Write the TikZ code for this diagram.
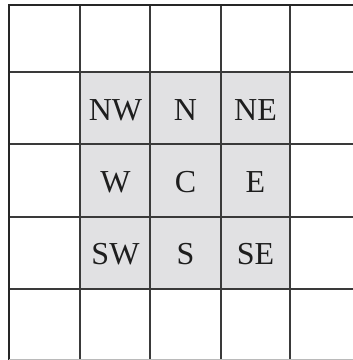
\documentclass[tikz,border=0pt]{standalone}
\usepackage{fontspec}
\setmainfont{Liberation Serif}
\definecolor{cellgray}{HTML}{E1E1E3}
\definecolor{linegray}{HTML}{3A3A3A}
\definecolor{textdark}{HTML}{1E1E1E}
\begin{document}
\begin{tikzpicture}[x=1pt,y=-1pt,
  gridline/.style={draw=linegray,line width=2pt},
  outerline/.style={draw=black!85,line width=2.6pt},
  lbl/.style={font=\fontsize{32}{32}\selectfont,text=textdark,inner sep=0pt,anchor=center}]
\useasboundingbox (0,0) rectangle (353,360);
\fill[white] (0,0) rectangle (353,360);
% shaded centre 3x3
\fill[cellgray] (80,72) rectangle (290,289);
% grid lines
\foreach \x in {80,150.5,221,290.5}{\draw[gridline] (\x,5) -- (\x,362);}
\foreach \y in {72,143.5,216.5,289}{\draw[gridline] (9,\y) -- (362,\y);}
\draw[outerline] (9,362) -- (9,5) -- (362,5);
\draw[draw=linegray!35,line width=1pt] (9,359.5) -- (362,359.5);
% labels
\node[lbl] (nw) at (115.5,110) {NW};
\node[lbl] (n)  at (185.5,110) {N};
\node[lbl] (ne) at (255.5,110) {NE};
\node[lbl] (w)  at (115.5,182) {W};
\node[lbl] (c)  at (185.5,182) {C};
\node[lbl] (e)  at (255.5,182) {E};
\node[lbl] (sw) at (115.5,254) {SW};
\node[lbl] (s)  at (185.5,254) {S};
\node[lbl] (se) at (255.5,254) {SE};
\end{tikzpicture}
\end{document}
